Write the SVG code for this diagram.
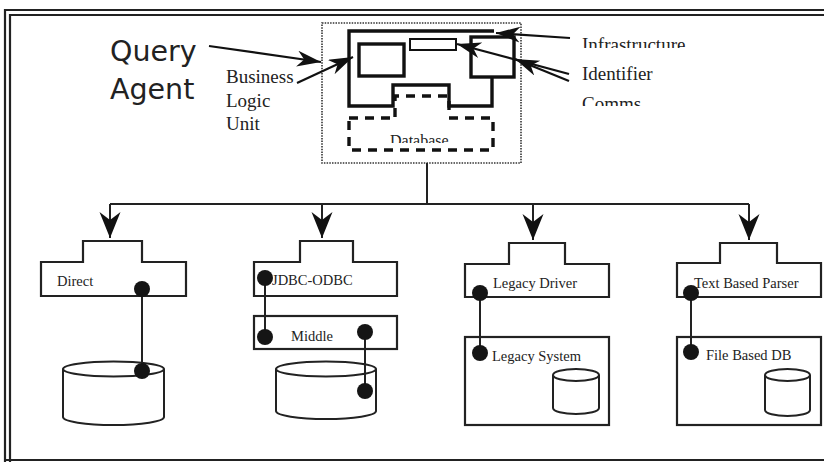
<svg xmlns="http://www.w3.org/2000/svg" width="824" height="462" viewBox="0 0 824 462">
<style>
.frame{fill:none;stroke:#222;stroke-width:2.2}
.thick{fill:none;stroke:#111;stroke-width:3.4}
.dash{fill:none;stroke:#111;stroke-width:3.4;stroke-dasharray:9,7}
.dot{fill:none;stroke:#333;stroke-width:1.6;stroke-dasharray:1.5,1.2}
.shape{fill:#fff;stroke:#222;stroke-width:2.2}
.cyl{fill:#fff;stroke:#222;stroke-width:2}
.line{fill:none;stroke:#222;stroke-width:2}
.ptr{fill:none;stroke:#111;stroke-width:2.2}
.pin{fill:#151515}
.lbl{font-family:"Liberation Serif","Times New Roman",serif;font-size:14.5px;fill:#222}
.big{font-family:"Liberation Serif","Times New Roman",serif;font-size:19px;fill:#222}
.qa{font-family:"DejaVu Sans",Verdana,sans-serif;font-size:28.5px;fill:#222}
</style>
<defs>
<marker id="ah" markerUnits="userSpaceOnUse" markerWidth="26" markerHeight="18" refX="24" refY="8" orient="auto">
<path d="M0,0 L24,8 L0,16 L7,8 z" fill="#111"/>
</marker>
<marker id="dn" markerUnits="userSpaceOnUse" markerWidth="28" markerHeight="22" refX="26" refY="10.5" orient="auto">
<path d="M0,0 L26,10.5 L0,21 L8,10.5 z" fill="#111"/>
</marker>
<clipPath id="cInf"><rect x="570" y="20" width="140" height="28"/></clipPath>
<clipPath id="cCom"><rect x="570" y="90" width="100" height="16"/></clipPath>
<clipPath id="cDb"><rect x="370" y="125" width="100" height="18"/></clipPath>
</defs>

<g id="frame">
<path class="frame" d="M824,10 L5,10 L5,462"/>
<path class="frame" d="M824,15 L10,15 L10,462"/>
<path class="frame" d="M5,460 L824,460"/>
</g>

<g id="query-agent">
<rect class="dot" x="322" y="23" width="199" height="140"/>
<path class="thick" d="M494,31 L349,31 L349,106 L393,106 L393,85 L449,85 L449,106 L492,106 L492,77"/>
<rect class="thick" x="471" y="37" width="43" height="40"/>
<rect class="thick" x="359" y="44" width="45" height="32"/>
<rect x="410" y="39" width="46" height="11" fill="#fff" stroke="#111" stroke-width="2"/>
<path class="dash" d="M349,118 L393,118 M395,117 L395,96 L449,96 L449,117 M449,118 L493,118 L493,150 L349,150 L349,118"/>
<text class="lbl" x="390" y="146" style="font-size:16px" clip-path="url(#cDb)">Database</text>
</g>

<g id="labels">
<text class="qa" x="110" y="61">Query</text>
<text class="qa" x="110" y="99">Agent</text>
<text class="big" x="226" y="83">Business</text>
<text class="big" x="226" y="107">Logic</text>
<text class="big" x="226" y="130">Unit</text>
<text class="big" x="582" y="51" clip-path="url(#cInf)">Infrastructure</text>
<text class="big" x="582" y="80">Identifier</text>
<text class="big" x="582" y="110" clip-path="url(#cCom)">Comms</text>
</g>

<g id="pointers">
<line class="ptr" x1="209" y1="46" x2="321" y2="62" marker-end="url(#ah)"/>
<line class="ptr" x1="297" y1="83" x2="353" y2="57" marker-end="url(#ah)"/>
<line class="ptr" x1="570" y1="38" x2="496" y2="33" marker-end="url(#ah)"/>
<line class="ptr" x1="569" y1="74" x2="457" y2="44" marker-end="url(#ah)"/>
<line class="ptr" x1="569" y1="81" x2="515" y2="59" marker-end="url(#ah)"/>
</g>

<g id="connectors">
<path class="line" d="M427,163 L427,204 M110,204 L749,204"/>
<line class="line" x1="110" y1="204" x2="110" y2="238" marker-end="url(#dn)"/>
<line class="line" x1="322" y1="204" x2="322" y2="238" marker-end="url(#dn)"/>
<line class="line" x1="533" y1="204" x2="533" y2="240" marker-end="url(#dn)"/>
<line class="line" x1="749" y1="204" x2="749" y2="240" marker-end="url(#dn)"/>
</g>

<g id="direct">
<path class="shape" d="M83,262 L83,241 L142,241 L142,262 L186,262 L186,296 L41,296 L41,262 Z"/>
<text class="lbl" x="57" y="286">Direct</text>
</g>
<g id="direct-db">
<path class="cyl" d="M63,369 L63,417 A50.5,8 0 0 0 164,417 L164,369"/>
<ellipse class="cyl" cx="113.5" cy="369" rx="50.5" ry="7.5"/>
</g>
<g id="direct-link">
<line class="line" x1="142" y1="289" x2="142" y2="371"/>
<circle class="pin" cx="142" cy="289" r="8"/>
<circle class="pin" cx="142" cy="371" r="8"/>
</g>

<g id="jdbc-odbc">
<path class="shape" d="M300,262 L300,241 L353,241 L353,262 L397,262 L397,296 L254,296 L254,262 Z"/>
<text class="lbl" x="272" y="285">JDBC-ODBC</text>
</g>
<g id="middle">
<rect class="shape" x="254" y="316" width="143" height="33"/>
<text class="lbl" x="291" y="341">Middle</text>
</g>
<g id="jdbc-db">
<path class="cyl" d="M276,369 L276,411 A50,8 0 0 0 376,411 L376,369"/>
<ellipse class="cyl" cx="326" cy="369" rx="50" ry="7.5"/>
</g>
<g id="jdbc-links">
<line class="line" x1="265" y1="278" x2="265" y2="337"/>
<line class="line" x1="365" y1="332" x2="365" y2="391"/>
<circle class="pin" cx="265" cy="278" r="8"/>
<circle class="pin" cx="265" cy="337" r="8"/>
<circle class="pin" cx="365" cy="332" r="8"/>
<circle class="pin" cx="365" cy="391" r="8"/>
</g>

<g id="legacy-driver">
<path class="shape" d="M509,264 L509,243 L565,243 L565,264 L609,264 L609,297 L465,297 L465,264 Z"/>
<text class="lbl" x="493" y="288">Legacy Driver</text>
</g>
<g id="legacy-system">
<rect class="shape" x="465" y="337" width="144" height="88"/>
<text class="lbl" x="492" y="361">Legacy System</text>
<path class="cyl" d="M553,375 L553,408 A23,6 0 0 0 599,408 L599,375"/>
<ellipse class="cyl" cx="576" cy="375" rx="23" ry="6"/>
</g>
<g id="legacy-link">
<line class="line" x1="480" y1="293" x2="480" y2="353"/>
<circle class="pin" cx="480" cy="293" r="8"/>
<circle class="pin" cx="480" cy="353" r="8"/>
</g>

<g id="text-parser">
<path class="shape" d="M720,263 L720,243 L777,243 L777,263 L821,263 L821,297 L677,297 L677,263 Z"/>
<text class="lbl" x="694" y="288">Text Based Parser</text>
</g>
<g id="file-db">
<rect class="shape" x="677" y="337" width="144" height="88"/>
<text class="lbl" x="706" y="360">File Based DB</text>
<path class="cyl" d="M765,375 L765,410 A22.5,6 0 0 0 810,410 L810,375"/>
<ellipse class="cyl" cx="787.5" cy="375" rx="22.5" ry="6"/>
</g>
<g id="parser-link">
<line class="line" x1="691" y1="293" x2="691" y2="352"/>
<circle class="pin" cx="691" cy="293" r="8"/>
<circle class="pin" cx="691" cy="352" r="8"/>
</g>
</svg>
